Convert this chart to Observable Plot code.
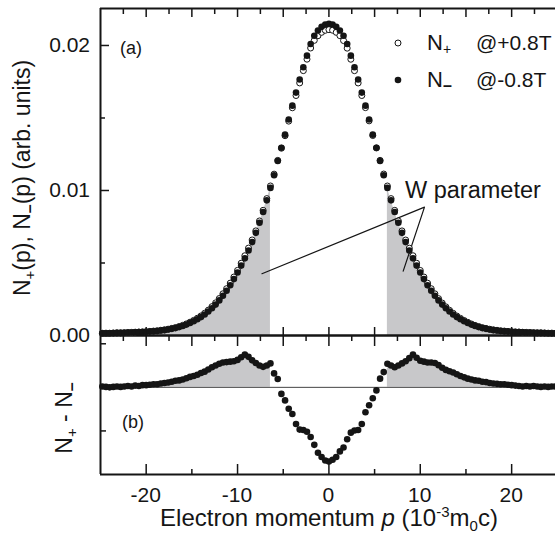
<!DOCTYPE html>
<html><head><meta charset="utf-8">
<script src="https://cdn.jsdelivr.net/npm/d3@7"></script>
<script src="https://cdn.jsdelivr.net/npm/@observablehq/plot@0.6"></script>
<style>
html,body{margin:0;padding:0;background:#fff;}
#wrap{position:relative;width:555px;height:538px;overflow:hidden;background:#fff;}
#wrap svg{position:absolute;left:0;top:0;}
</style></head><body><div id="wrap"></div>
<script>
// Electron momentum p (10^-3 m0c)
const p = [-24.8,-24.4,-24,-23.6,-23.2,-22.8,-22.4,-22,-21.6,-21.2,-20.8,-20.4,-20,-19.6,-19.2,-18.8,-18.4,-18,-17.6,-17.2,-16.8,-16.4,-16,-15.6,-15.2,-14.8,-14.4,-14,-13.6,-13.2,-12.8,-12.4,-12,-11.6,-11.2,-10.8,-10.4,-10,-9.6,-9.2,-8.8,-8.4,-8,-7.6,-7.2,-6.8,-6.4,-6,-5.6,-5.2,-4.8,-4.4,-4,-3.6,-3.2,-2.8,-2.4,-2,-1.6,-1.2,-0.8,-0.4,0,0.4,0.8,1.2,1.6,2,2.4,2.8,3.2,3.6,4,4.4,4.8,5.2,5.6,6,6.4,6.8,7.2,7.6,8,8.4,8.8,9.2,9.6,10,10.4,10.8,11.2,11.6,12,12.4,12.8,13.2,13.6,14,14.4,14.8,15.2,15.6,16,16.4,16.8,17.2,17.6,18,18.4,18.8,19.2,19.6,20,20.4,20.8,21.2,21.6,22,22.4,22.8,23.2,23.6,24,24.4,24.8];
// N- (p) at -0.8T
const nMinus = [0.00015,0.00016,0.00016,0.00017,0.00018,0.00018,0.00019,0.00020,0.00021,0.00022,0.00023,0.00024,0.00025,0.00027,0.00029,0.00031,0.00034,0.00037,0.00041,0.00046,0.00051,0.00058,0.00066,0.00075,0.00086,0.00098,0.00112,0.00127,0.00145,0.00165,0.00188,0.00213,0.00242,0.00274,0.00309,0.00347,0.00389,0.00434,0.00482,0.00532,0.00586,0.00644,0.00708,0.00778,0.00852,0.00932,0.01018,0.01105,0.01203,0.01295,0.01385,0.01490,0.01585,0.01675,0.01765,0.01850,0.01930,0.02010,0.02067,0.02103,0.02129,0.02145,0.02150,0.02145,0.02129,0.02103,0.02067,0.02010,0.01930,0.01850,0.01765,0.01675,0.01585,0.01490,0.01385,0.01295,0.01203,0.01105,0.01018,0.00932,0.00852,0.00778,0.00708,0.00644,0.00586,0.00532,0.00482,0.00434,0.00389,0.00347,0.00309,0.00274,0.00242,0.00213,0.00188,0.00165,0.00145,0.00127,0.00112,0.00098,0.00086,0.00075,0.00066,0.00058,0.00051,0.00046,0.00041,0.00037,0.00034,0.00031,0.00029,0.00027,0.00025,0.00024,0.00023,0.00022,0.00021,0.00020,0.00019,0.00018,0.00018,0.00017,0.00016,0.00016,0.00015];
// N+ - N- (panel b units)
const diff = [0.02,0.01,0.00,0.01,0.02,0.01,0.02,0.03,0.02,0.04,0.03,0.05,0.05,0.06,0.07,0.07,0.09,0.10,0.11,0.13,0.15,0.16,0.18,0.21,0.24,0.26,0.29,0.33,0.36,0.41,0.46,0.50,0.54,0.57,0.58,0.59,0.60,0.63,0.69,0.75,0.70,0.62,0.56,0.50,0.47,0.50,0.55,0.32,0.19,-0.15,-0.30,-0.49,-0.61,-0.84,-0.97,-0.98,-1.02,-1.14,-1.32,-1.50,-1.60,-1.68,-1.70,-1.66,-1.60,-1.47,-1.38,-1.19,-1.04,-0.99,-0.98,-0.84,-0.57,-0.41,-0.25,-0.07,0.20,0.35,0.54,0.50,0.46,0.50,0.55,0.60,0.67,0.75,0.68,0.61,0.59,0.57,0.57,0.56,0.51,0.45,0.40,0.37,0.34,0.30,0.26,0.23,0.20,0.18,0.16,0.15,0.13,0.12,0.10,0.09,0.08,0.07,0.07,0.06,0.05,0.04,0.03,0.02,0.03,0.02,0.03,0.02,0.01,0.02,0.01,0.02,0.02];
const DIFF_UNIT = 0.00024;   // one panel-(b) unit in N(p) units
const W_EDGE = 6.4;          // W-parameter window |p| >= 6.4

// "W parameter" pointer polyline
const wLineP = [-7.33, 10.46, 8.13];
const wLineN = [0.00426, 0.00885, 0.00444];

// ticks
const xTicksLabel = [-20,-10,0,10,20];
const xTickText = ["-20","-10","0","10","20"];
const xTicksFive = [-20,-15,-10,-5,0,5,10,15,20];
const xTicksHalf = [-22.5,-17.5,-12.5,-7.5,-2.5,2.5,7.5,12.5,17.5,22.5];
const xTicksOddFive = [-15,-5,5,15];
const yTopMajor = [0,0.01,0.02];
const yTopText = ["0.00","0.01","0.02"];
const yTopMinor = [0.005,0.015];
const yBotTicks = [1,0,-1];

const xDomain = [-25, 24.8];
const yTopDomain = [0, 0.02255];
const yBotDomain = [-2, 1.19];

const ink = "#151515", gray = "#c8c8ca";
const font = "'Liberation Sans', Arial, Helvetica, sans-serif";

const rows = p.map((v, i) => ({p: v, nm: nMinus[i], d: diff[i], np: nMinus[i] + diff[i] * DIFF_UNIT}));
const leftWing = rows.filter(r => r.p <= -W_EDGE);
const rightWing = rows.filter(r => r.p >= W_EDGE);
const wLine = wLineP.map((v, i) => ({p: v, n: wLineN[i]}));

const blank = () => "";
const common = {
  width: 555, height: 538, marginLeft: 100, marginRight: 0,
  x: {domain: xDomain},
  style: {background: "transparent", overflow: "visible", fontFamily: font, fontSize: "21px", color: ink}
};

const topPlot = Plot.plot({
  ...common, marginTop: 8, marginBottom: 203,
  y: {domain: yTopDomain},
  marks: [
    Plot.axisX({anchor: "bottom", ticks: xTicksFive, tickSize: -8, tickFormat: blank, label: null, strokeWidth: 1.5}),
    Plot.areaY(leftWing, {x: "p", y: "nm", fill: gray}),
    Plot.areaY(rightWing, {x: "p", y: "nm", fill: gray}),
    Plot.axisX({anchor: "top", ticks: xTicksFive, tickSize: -8, tickFormat: blank, label: null, strokeWidth: 1.5}),
    Plot.axisX({anchor: "top", ticks: xTicksHalf, tickSize: -5, tickFormat: blank, label: null, strokeWidth: 1.5}),
    Plot.axisY({anchor: "left", ticks: yTopMajor, tickSize: -9, tickFormat: blank, label: null, strokeWidth: 1.5}),
    Plot.axisY({anchor: "left", ticks: yTopMinor, tickSize: -5, tickFormat: blank, label: null, strokeWidth: 1.5}),
    Plot.ruleX([xDomain[0]], {stroke: ink, strokeWidth: 2}),
    Plot.ruleY([yTopDomain[1]], {stroke: ink, strokeWidth: 2}),
    Plot.ruleY([yTopDomain[0]], {stroke: ink, strokeWidth: 2.5}),
    Plot.line(wLine, {x: "p", y: "n", stroke: ink, strokeWidth: 1.2}),
    Plot.dot(rows, {x: "p", y: "np", r: 3, fill: "white", stroke: ink, strokeWidth: 1}),
    Plot.dot(rows, {x: "p", y: "nm", r: 3.3, fill: ink})
  ]
});

const botPlot = Plot.plot({
  ...common, marginTop: 335, marginBottom: 64,
  y: {domain: yBotDomain},
  marks: [
    Plot.areaY(leftWing, {x: "p", y: "d", fill: gray}),
    Plot.areaY(rightWing, {x: "p", y: "d", fill: gray}),
    Plot.ruleY([0], {stroke: "#444", strokeWidth: 1}),
    Plot.axisX({anchor: "top", ticks: xTicksFive, tickSize: -10, tickFormat: blank, label: null, strokeWidth: 1.5}),
    Plot.axisX({anchor: "top", ticks: xTicksHalf, tickSize: -5, tickFormat: blank, label: null, strokeWidth: 1.5}),
    Plot.axisX({anchor: "bottom", ticks: xTicksLabel, tickSize: -10, tickFormat: blank, label: null, strokeWidth: 1.5}),
    Plot.axisX({anchor: "bottom", ticks: xTicksOddFive, tickSize: -5, tickFormat: blank, label: null, strokeWidth: 1.5}),
    Plot.axisY({anchor: "left", ticks: yBotTicks, tickSize: -6, tickFormat: blank, label: null, strokeWidth: 1.5}),
    Plot.ruleX([xDomain[0]], {stroke: ink, strokeWidth: 2}),
    Plot.ruleY([yBotDomain[0]], {stroke: ink, strokeWidth: 2}),
    Plot.dot(rows, {x: "p", y: "d", r: 3.3, fill: ink})
  ]
});

const wrap = document.getElementById("wrap");
wrap.appendChild(topPlot);
wrap.appendChild(botPlot);

// text overlay, positioned through the plots' own scales
const sx = topPlot.scale("x"), syTop = topPlot.scale("y");
const ov = d3.select(wrap).append("svg")
  .attr("width", 555).attr("height", 538)
  .style("font-family", font).attr("fill", ink);

// tick labels
yTopMajor.forEach((v, i) => {
  ov.append("text").attr("x", 90).attr("y", syTop.apply(v)).attr("dy", "0.34em")
    .attr("text-anchor", "end").attr("font-size", 21).text(yTopText[i]);
});
xTicksLabel.forEach((v, i) => {
  ov.append("text").attr("x", sx.apply(v)).attr("y", 502)
    .attr("text-anchor", "middle").attr("font-size", 21).text(xTickText[i]);
});

function rich(g, parts, size) {
  const t = g.append("text").attr("font-size", size);
  for (const pt of parts) {
    const s = t.append("tspan").text(pt.t);
    if (pt.dy) s.attr("dy", pt.dy);
    if (pt.size) s.attr("font-size", pt.size);
    if (pt.italic) s.attr("font-style", "italic");
    if (pt.bold) s.attr("font-weight", "bold");
  }
  return t;
}

// y label, panel (a)
rich(ov, [
  {t: "N"}, {t: "+", size: 15, dy: 5}, {t: "(p), N", dy: -5},
  {t: "\u2013", size: 16, dy: 5, bold: true}, {t: "(p) (arb. units)", dy: -5}
], 23).attr("text-anchor", "middle").attr("transform", "translate(29.5,178) rotate(-90)");

// y label, panel (b)
rich(ov, [
  {t: "N"}, {t: "+", size: 15, dy: 5}, {t: "  -  N", dy: -5},
  {t: "\u2013", size: 16, dy: 5, bold: true}
], 23).attr("text-anchor", "middle").attr("transform", "translate(72,418) rotate(-90)");

// x label
rich(ov, [
  {t: "Electron momentum "}, {t: "p", italic: true}, {t: " (10"},
  {t: "-3", size: 15, dy: -9}, {t: "m", dy: 9}, {t: "0", size: 15, dy: 5}, {t: "c)", dy: -5}
], 24).attr("text-anchor", "middle").attr("x", 329).attr("y", 526);

// panel tags
ov.append("text").attr("x", 120).attr("y", 54).attr("font-size", 18).text("(a)");
ov.append("text").attr("x", 122).attr("y", 428).attr("font-size", 18).text("(b)");

// legend
ov.append("circle").attr("cx", 398).attr("cy", 43).attr("r", 3).attr("fill", "white").attr("stroke", ink).attr("stroke-width", 1);
ov.append("circle").attr("cx", 398).attr("cy", 80).attr("r", 3.3).attr("fill", ink);
rich(ov, [{t: "N"}, {t: "+", size: 14, dy: 4}], 22).attr("x", 427).attr("y", 50);
ov.append("text").attr("x", 476).attr("y", 50).attr("font-size", 21).text("@+0.8T");
rich(ov, [{t: "N"}, {t: "\u2013", size: 16, dy: 4, bold: true}], 22).attr("x", 427).attr("y", 87);
ov.append("text").attr("x", 476).attr("y", 87).attr("font-size", 21).text("@-0.8T");

// W parameter
ov.append("text").attr("x", 405).attr("y", 198).attr("font-size", 23.5).text("W parameter");
</script></body></html>
